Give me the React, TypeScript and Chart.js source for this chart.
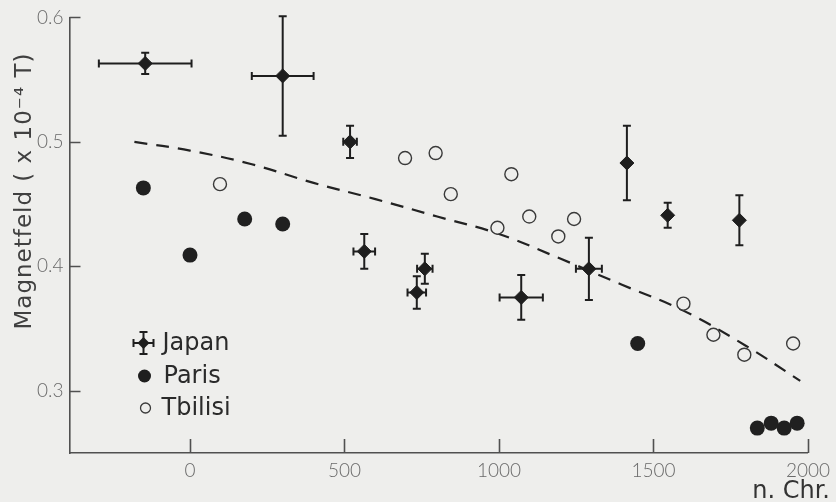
import React, { useEffect, useRef } from "react";
import { Chart, registerables } from "chart.js";

Chart.register(...registerables);

// ---- data ----
const X_TICKS = [0, 500, 1000, 1500, 2000];
const Y_TICKS = [0.3, 0.4, 0.5, 0.6];

const JAPAN_YEAR = [-145, 300, 518, 564, 734, 760, 1072, 1291, 1414, 1546, 1778];
const JAPAN_FIELD = [0.563, 0.553, 0.5, 0.412, 0.379, 0.398, 0.375, 0.398, 0.483, 0.441, 0.437];
const JAPAN_YEAR_ERR = [150, 100, 22, 35, 30, 25, 70, 42, 0, 0, 0];
const JAPAN_FIELD_ERR = [0.0085, 0.048, 0.013, 0.014, 0.013, 0.012, 0.018, 0.025, 0.03, 0.01, 0.02];

const PARIS_YEAR = [-151, 0, 177, 300, 1449, 1836, 1881, 1923, 1965];
const PARIS_FIELD = [0.463, 0.409, 0.438, 0.434, 0.338, 0.27, 0.274, 0.27, 0.274];

const TBILISI_YEAR = [97, 696, 795, 844, 995, 1040, 1098, 1192, 1243, 1597, 1694, 1794, 1952];
const TBILISI_FIELD = [0.466, 0.487, 0.491, 0.458, 0.431, 0.474, 0.44, 0.424, 0.438, 0.37, 0.345, 0.329, 0.338];

const CURVE_YEAR = [-180, 0, 200, 400, 600, 800, 1000, 1200, 1400, 1600, 1800, 1975];
const CURVE_FIELD = [0.5, 0.493, 0.482, 0.467, 0.454, 0.44, 0.426, 0.406, 0.385, 0.364, 0.336, 0.308];

const SERIES_LABELS = ["Japan", "Paris", "Tbilisi"];
const Y_TITLE = "Magnetfeld ( x 10\u207B\u2074 T)";
const X_TITLE = "n. Chr.";

// ---- styles ----
const BG = "#eeeeec";
const INK = "#1e1e1e";
const AXIS = "#505050";
const TICK_TEXT = "#6a6a6a";

const zip = (xs: number[], ys: number[]) => xs.map((x, i) => ({ x, y: ys[i] }));

const decorPlugin = {
  id: "decor",
  beforeDatasetsDraw(chart: any) {
    const { ctx, scales } = chart;
    const xs = scales.x;
    const ys = scales.y;
    ctx.save();
    ctx.strokeStyle = INK;
    ctx.lineWidth = 2;
    const cap = 4;
    JAPAN_YEAR.forEach((yr, i) => {
      const px = xs.getPixelForValue(yr);
      const py = ys.getPixelForValue(JAPAN_FIELD[i]);
      const ye = JAPAN_FIELD_ERR[i];
      const xe = JAPAN_YEAR_ERR[i];
      if (ye > 0) {
        const t = ys.getPixelForValue(JAPAN_FIELD[i] + ye);
        const b = ys.getPixelForValue(JAPAN_FIELD[i] - ye);
        ctx.beginPath();
        ctx.moveTo(px, t);
        ctx.lineTo(px, b);
        ctx.moveTo(px - cap, t);
        ctx.lineTo(px + cap, t);
        ctx.moveTo(px - cap, b);
        ctx.lineTo(px + cap, b);
        ctx.stroke();
      }
      if (xe > 0) {
        const l = xs.getPixelForValue(yr - xe);
        const r = xs.getPixelForValue(yr + xe);
        ctx.beginPath();
        ctx.moveTo(l, py);
        ctx.lineTo(r, py);
        ctx.moveTo(l, py - cap);
        ctx.lineTo(l, py + cap);
        ctx.moveTo(r, py - cap);
        ctx.lineTo(r, py + cap);
        ctx.stroke();
      }
    });
    ctx.restore();
  },
  afterDraw(chart: any) {
    const { ctx, scales, chartArea } = chart;
    const xs = scales.x;
    const ys = scales.y;
    ctx.save();
    // inward ticks
    ctx.strokeStyle = AXIS;
    ctx.lineWidth = 1.6;
    ctx.beginPath();
    Y_TICKS.forEach((v) => {
      const py = Math.round(ys.getPixelForValue(v)) + 0.5;
      ctx.moveTo(chartArea.left, py);
      ctx.lineTo(chartArea.left + 11, py);
    });
    X_TICKS.forEach((v) => {
      const px = Math.round(xs.getPixelForValue(v)) + 0.5;
      ctx.moveTo(px, chartArea.bottom);
      ctx.lineTo(px, chartArea.bottom - 14);
    });
    ctx.stroke();

    // y title
    ctx.fillStyle = "#404040";
    ctx.font = "23px 'DejaVu Sans'";
    (ctx as any).letterSpacing = "1px";
    ctx.textAlign = "center";
    ctx.textBaseline = "middle";
    ctx.save();
    ctx.translate(25, 191);
    ctx.rotate(-Math.PI / 2);
    ctx.fillText(Y_TITLE, 0, 0);
    ctx.restore();
    (ctx as any).letterSpacing = "0px";

    // x title
    ctx.font = "24px 'DejaVu Sans'";
    ctx.textAlign = "right";
    ctx.textBaseline = "alphabetic";
    ctx.fillStyle = "#333";
    ctx.fillText(X_TITLE, 830, 498);

    // legend
    const lx = chartArea.left + 74;
    const rows = [343, 376, 408];
    ctx.font = "24px 'DejaVu Sans'";
    ctx.textAlign = "left";
    ctx.textBaseline = "middle";
    // Japan symbol
    ctx.strokeStyle = INK;
    ctx.lineWidth = 2;
    ctx.beginPath();
    ctx.moveTo(lx, rows[0] - 11);
    ctx.lineTo(lx, rows[0] + 11);
    ctx.moveTo(lx - 4, rows[0] - 11);
    ctx.lineTo(lx + 4, rows[0] - 11);
    ctx.moveTo(lx - 4, rows[0] + 11);
    ctx.lineTo(lx + 4, rows[0] + 11);
    ctx.moveTo(lx - 10, rows[0]);
    ctx.lineTo(lx + 10, rows[0]);
    ctx.moveTo(lx - 10, rows[0] - 4);
    ctx.lineTo(lx - 10, rows[0] + 4);
    ctx.moveTo(lx + 10, rows[0] - 4);
    ctx.lineTo(lx + 10, rows[0] + 4);
    ctx.stroke();
    ctx.fillStyle = INK;
    ctx.beginPath();
    ctx.moveTo(lx, rows[0] - 6);
    ctx.lineTo(lx + 6, rows[0]);
    ctx.lineTo(lx, rows[0] + 6);
    ctx.lineTo(lx - 6, rows[0]);
    ctx.closePath();
    ctx.fill();
    // Paris symbol
    ctx.beginPath();
    ctx.arc(lx + 1, rows[1], 6.5, 0, Math.PI * 2);
    ctx.fill();
    // Tbilisi symbol
    ctx.strokeStyle = "#3a3a3a";
    ctx.lineWidth = 1.3;
    ctx.beginPath();
    ctx.arc(lx + 2, rows[2], 5, 0, Math.PI * 2);
    ctx.stroke();
    ctx.fillStyle = "#2a2a2a";
    ctx.fillText(SERIES_LABELS[0], lx + 19, rows[0] + 1);
    ctx.fillText(SERIES_LABELS[1], lx + 20, rows[1] + 1);
    ctx.fillText(SERIES_LABELS[2], lx + 18, rows[2] + 1);
    ctx.restore();
  },
};

export default function App() {
  const ref = useRef<HTMLCanvasElement | null>(null);
  useEffect(() => {
    document.body.style.margin = "0";
    document.body.style.background = BG;
    const canvas = ref.current;
    if (!canvas) return;
    const tickFont = { family: "Lato", size: 19, weight: 300 as any };
    const chart = new Chart(canvas, {
      type: "scatter",
      data: {
        datasets: [
          {
            label: SERIES_LABELS[0],
            data: zip(JAPAN_YEAR, JAPAN_FIELD),
            pointStyle: "rectRot",
            pointRadius: 7,
            backgroundColor: INK,
            borderColor: INK,
            borderWidth: 1,
            order: 1,
          },
          {
            label: SERIES_LABELS[1],
            data: zip(PARIS_YEAR, PARIS_FIELD),
            pointStyle: "circle",
            pointRadius: 7.5,
            backgroundColor: "#202020",
            borderColor: "#202020",
            borderWidth: 0,
            order: 2,
          },
          {
            label: SERIES_LABELS[2],
            data: zip(TBILISI_YEAR, TBILISI_FIELD),
            pointStyle: "circle",
            pointRadius: 6.5,
            backgroundColor: BG,
            borderColor: "#3a3a3a",
            borderWidth: 1.4,
            order: 3,
          },
          {
            label: "Kurve",
            data: zip(CURVE_YEAR, CURVE_FIELD),
            showLine: true,
            borderColor: "#222",
            borderWidth: 2.2,
            borderDash: [13, 9],
            pointRadius: 0,
            tension: 0.4,
            fill: false,
            order: 10,
          } as any,
        ],
      },
      options: {
        responsive: false,
        animation: false,
        events: [],
        layout: { padding: { top: 15, right: 25, left: 0, bottom: 0 } },
        plugins: { legend: { display: false }, tooltip: { enabled: false } },
        scales: {
          x: {
            type: "linear",
            min: -390,
            max: 2000,
            afterBuildTicks: (s: any) => {
              s.ticks = X_TICKS.map((v) => ({ value: v }));
            },
            afterFit: (s: any) => {
              s.height = 49;
            },
            grid: { display: false, drawTicks: false },
            border: { display: true, color: AXIS, width: 1.6 },
            ticks: {
              padding: 6,
              color: TICK_TEXT,
              font: tickFont,
              maxRotation: 0,
              callback: (v: any) => String(v),
            },
          },
          y: {
            type: "linear",
            min: 0.25,
            max: 0.6,
            afterBuildTicks: (s: any) => {
              s.ticks = Y_TICKS.map((v) => ({ value: v }));
            },
            afterFit: (s: any) => {
              s.width = 69.5;
            },
            grid: { display: false, drawTicks: false },
            border: { display: true, color: AXIS, width: 1.6 },
            ticks: {
              padding: 6,
              color: TICK_TEXT,
              font: tickFont,
              callback: (v: any) => Number(v).toFixed(1),
            },
          },
        },
      },
      plugins: [decorPlugin],
    });
    return () => chart.destroy();
  }, []);
  return (
    <div style={{ width: 836, height: 502, background: BG }}>
      <canvas ref={ref} width={836} height={502} style={{ display: "block" }} />
    </div>
  );
}
